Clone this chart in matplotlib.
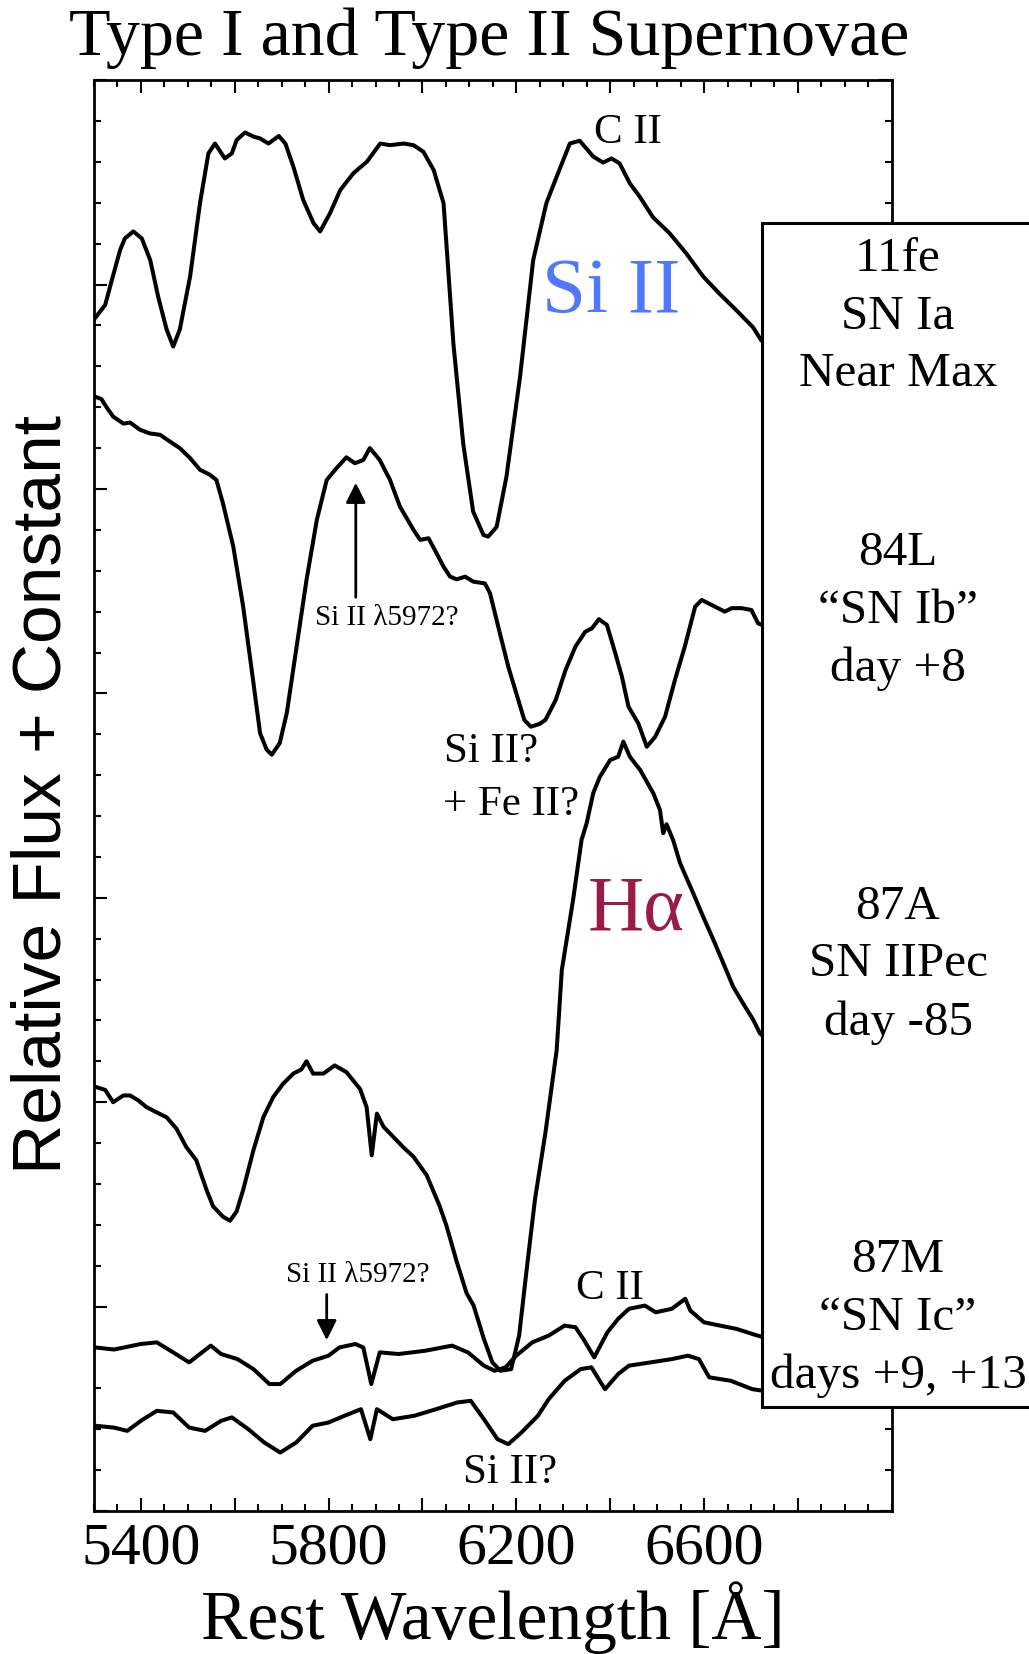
import matplotlib
matplotlib.use("Agg")
import matplotlib.pyplot as plt
from matplotlib.patches import Rectangle
from matplotlib.ticker import MultipleLocator, FixedLocator, FuncFormatter

plt.rcParams['font.family'] = ['Liberation Serif', 'DejaVu Serif']

# --- spectra (wavelength in A, flux + constant in arbitrary units) ---
wl_11fe = [5302, 5324, 5338, 5356, 5366, 5384, 5402, 5420, 5437, 5455, 5469, 5483,
           5505, 5526, 5544, 5558, 5579, 5594, 5604, 5622, 5640, 5654, 5672, 5694,
           5708, 5725, 5746, 5768, 5782, 5803, 5825, 5853, 5882, 5910, 5931, 5960,
           5981, 6002, 6024, 6045, 6066, 6087, 6108, 6130, 6140, 6158, 6179, 6208,
           6236, 6264, 6286, 6314, 6335, 6364, 6385, 6403, 6420, 6442, 6463, 6491,
           6527, 6562, 6598, 6633, 6669, 6704, 6722, 6760]
fl_11fe = [5.835, 5.90, 6.02, 6.17, 6.226, 6.26, 6.226, 6.12, 5.94, 5.78, 5.697, 5.78,
           6.04, 6.398, 6.642, 6.69, 6.617, 6.642, 6.707, 6.744, 6.724, 6.715, 6.69, 6.727,
           6.69, 6.577, 6.414, 6.30, 6.26, 6.349, 6.463, 6.545, 6.602, 6.69, 6.682, 6.69,
           6.682, 6.65, 6.56, 6.398, 5.71, 5.22, 4.89, 4.775, 4.767, 4.814, 5.06, 5.55,
           6.12, 6.398, 6.528, 6.69, 6.704, 6.626, 6.597, 6.617, 6.593, 6.495, 6.43, 6.33,
           6.25, 6.153, 6.04, 5.955, 5.874, 5.792, 5.727, 5.66]

wl_84L = [5302, 5316, 5327, 5341, 5363, 5377, 5398, 5419, 5441, 5462, 5483, 5505,
          5526, 5547, 5561, 5575, 5597, 5618, 5639, 5654, 5668, 5679, 5696, 5711,
          5732, 5753, 5775, 5796, 5817, 5838, 5856, 5874, 5888, 5909, 5931, 5952,
          5981, 5995, 6013, 6030, 6045, 6059, 6073, 6091, 6108, 6133, 6144, 6165,
          6183, 6200, 6217, 6231, 6249, 6262, 6284, 6305, 6326, 6347, 6361, 6376,
          6393, 6411, 6425, 6439, 6460, 6478, 6496, 6517, 6538, 6559, 6581, 6595,
          6616, 6644, 6659, 6680, 6701, 6715, 6760]
fl_84L = [5.452, 5.44, 5.40, 5.354, 5.32, 5.325, 5.29, 5.272, 5.265, 5.232, 5.20, 5.151,
          5.094, 5.07, 5.044, 4.93, 4.718, 4.425, 4.067, 3.806, 3.725, 3.70, 3.757, 3.904,
          4.23, 4.555, 4.849, 5.044, 5.102, 5.155, 5.126, 5.142, 5.20, 5.142, 5.044, 4.914,
          4.80, 4.751, 4.759, 4.686, 4.62, 4.571, 4.558, 4.571, 4.547, 4.538, 4.49, 4.294,
          4.13, 4.0, 3.87, 3.837, 3.85, 3.87, 3.968, 4.115, 4.229, 4.302, 4.318, 4.363,
          4.335, 4.196, 4.082, 3.935, 3.853, 3.739, 3.788, 3.886, 4.066, 4.229, 4.424, 4.457,
          4.433, 4.40, 4.417, 4.417, 4.408, 4.343, 4.30]

wl_87A = [5302, 5324, 5341, 5363, 5377, 5395, 5412, 5434, 5455, 5476, 5497, 5518,
          5540, 5554, 5575, 5590, 5604, 5618, 5640, 5661, 5682, 5703, 5725, 5742,
          5753, 5767, 5789, 5813, 5838, 5867, 5881, 5892, 5903, 5917, 5938, 5959,
          5981, 6009, 6037, 6051, 6073, 6094, 6109, 6131, 6149, 6166, 6189, 6206,
          6223, 6240, 6262, 6286, 6297, 6321, 6339, 6350, 6364, 6378, 6400, 6417,
          6428, 6442, 6464, 6492, 6506, 6513, 6520, 6534, 6549, 6577, 6598, 6620,
          6641, 6662, 6683, 6705, 6719, 6760]
fl_87A = [2.076, 2.06, 2.0, 2.033, 2.033, 2.008, 1.976, 1.95, 1.926, 1.87, 1.78, 1.717,
          1.571, 1.49, 1.44, 1.42, 1.465, 1.571, 1.766, 1.926, 2.025, 2.09, 2.14, 2.16,
          2.20, 2.14, 2.14, 2.18, 2.147, 2.065, 1.976, 1.74, 1.944, 1.88, 1.83, 1.78,
          1.733, 1.643, 1.49, 1.397, 1.22, 1.066, 1.005, 0.841, 0.727, 0.686, 0.694, 0.858,
          1.20, 1.528, 1.85, 2.255, 2.647, 2.99, 3.283, 3.366, 3.513, 3.592, 3.674, 3.69,
          3.764, 3.69, 3.625, 3.511, 3.43, 3.316, 3.36, 3.283, 3.169, 3.022, 2.908, 2.794,
          2.68, 2.565, 2.484, 2.402, 2.337, 2.25]

wl_87M_9 = [5303, 5343, 5400, 5434, 5469, 5503, 5549, 5571, 5606, 5640, 5674, 5697,
            5731, 5766, 5800, 5823, 5857, 5874, 5891, 5909, 5949, 6006, 6063, 6097,
            6131, 6154, 6177, 6200, 6234, 6269, 6303, 6326, 6343, 6366, 6394, 6417,
            6440, 6474, 6497, 6531, 6560, 6571, 6600, 6634, 6669, 6703, 6726, 6760]
fl_87M_9 = [0.80, 0.79, 0.817, 0.825, 0.776, 0.727, 0.809, 0.768, 0.743, 0.694, 0.621, 0.621,
            0.686, 0.735, 0.76, 0.80, 0.817, 0.80, 0.621, 0.776, 0.768, 0.784, 0.809, 0.776,
            0.711, 0.686, 0.703, 0.76, 0.825, 0.858, 0.907, 0.899, 0.841, 0.752, 0.874, 0.94,
            0.989, 1.005, 0.972, 0.989, 1.038, 0.98, 0.923, 0.907, 0.891, 0.866, 0.85, 0.83]

wl_87M_13 = [5303, 5343, 5371, 5400, 5434, 5469, 5503, 5537, 5571, 5594, 5629, 5663,
             5697, 5731, 5766, 5800, 5834, 5869, 5889, 5903, 5937, 5983, 6029, 6074,
             6103, 6131, 6160, 6183, 6211, 6246, 6269, 6303, 6337, 6360, 6389, 6417,
             6440, 6486, 6531, 6566, 6589, 6611, 6657, 6703, 6726, 6760]
fl_87M_13 = [0.417, 0.408, 0.392, 0.441, 0.49, 0.482, 0.408, 0.392, 0.441, 0.458, 0.40, 0.335,
             0.286, 0.335, 0.417, 0.433, 0.466, 0.498, 0.351, 0.498, 0.449, 0.466, 0.498, 0.531,
             0.539, 0.449, 0.351, 0.327, 0.384, 0.466, 0.547, 0.637, 0.694, 0.703, 0.596, 0.67,
             0.711, 0.727, 0.743, 0.76, 0.743, 0.654, 0.637, 0.596, 0.588, 0.57]

spectra = [(wl_11fe, fl_11fe), (wl_84L, fl_84L), (wl_87A, fl_87A),
           (wl_87M_9, fl_87M_9), (wl_87M_13, fl_87M_13)]

box_labels = ["11fe\nSN Ia\nNear Max",
              "84L\n\u201cSN Ib\u201d\nday +8",
              "87A\nSN IIPec\nday -85",
              "87M\n\u201cSN Ic\u201d\ndays +9, +13"]

fig = plt.figure(figsize=(10.29, 16.54), dpi=100)
ax = fig.add_axes([0.09125, 0.08646, 0.7754, 0.86506])

for wl, fl in spectra:
    ax.plot(wl, fl, color='black', lw=2.9, solid_joinstyle='round')

ax.set_xlim(5300, 7000)
ax.set_ylim(0, 7)

ax.xaxis.set_major_locator(FixedLocator(list(range(5400, 7000, 200))))
ax.xaxis.set_minor_locator(MultipleLocator(50))
ax.xaxis.set_major_formatter(FuncFormatter(lambda v, p: f"{int(v)}" if int(v) % 400 == 200 else ""))
ax.yaxis.set_major_locator(MultipleLocator(1))
ax.yaxis.set_minor_locator(MultipleLocator(0.2))
ax.set_yticklabels([])
ax.tick_params(which='both', direction='in', top=True, right=True, width=1.5)
ax.tick_params(which='major', length=9.5, labelsize=43, pad=8)
ax.tick_params(which='minor', length=5)
for s in ax.spines.values():
    s.set_linewidth(2)

ax.set_xlabel("Rest Wavelength [\u00c5]", fontsize=50, va='baseline')
ax.xaxis.set_label_coords(0.5, -0.0895)
ax.set_ylabel("Relative Flux + Constant", fontsize=50, family=['Liberation Sans', 'DejaVu Sans'],
              va='center')
ax.yaxis.set_label_coords(-0.065, 0.501)

fig.suptitle("Type I and Type II Supernovae", x=0.4755, y=0.9667, va='baseline', fontsize=49)

# line identifications
ax.text(6438, 6.745, "C II", fontsize=31, ha='center', va='center')
ax.text(6403, 5.96, "Si II", fontsize=57, color='#5078FF', ha='center', va='center')
ax.text(5925, 4.371, "Si II \u03bb5972?", fontsize=21, ha='center', va='center')
ax.annotate("", xy=(5858, 5.044), xytext=(5858, 4.457),
            arrowprops=dict(arrowstyle='-|>', color='black', lw=2, mutation_scale=30))
ax.text(6045, 3.713, "Si II?", fontsize=31, ha='left', va='center')
ax.text(6044, 3.454, "+ Fe II?", fontsize=31, ha='left', va='center')
ax.text(6456, 2.934, "H\u03b1", fontsize=56, color='#9A1A48', ha='center', va='center')
ax.text(5863, 1.155, "Si II \u03bb5972?", fontsize=21, ha='center', va='center')
ax.annotate("", xy=(5796, 0.822), xytext=(5796, 1.073),
            arrowprops=dict(arrowstyle='-|>', color='black', lw=2, mutation_scale=30))
ax.text(6400, 1.086, "C II", fontsize=31, ha='center', va='center')
ax.text(6186, 0.188, "Si II?", fontsize=31, ha='center', va='center')

# label box on the right, drawn over the spectra
box = Rectangle((0.7405, 0.14933), 0.3, 0.7160, transform=fig.transFigure,
                facecolor='white', edgecolor='black', lw=2.2, zorder=5, clip_on=False)
fig.add_artist(box)
for lab, yc in zip(box_labels, [0.8086, 0.6305, 0.4168, 0.2031]):
    fig.text(0.8727, yc, lab, fontsize=35.5, ha='center', va='center',
             multialignment='center', linespacing=1.4, zorder=6)

fig.savefig("out.png", dpi=100)
